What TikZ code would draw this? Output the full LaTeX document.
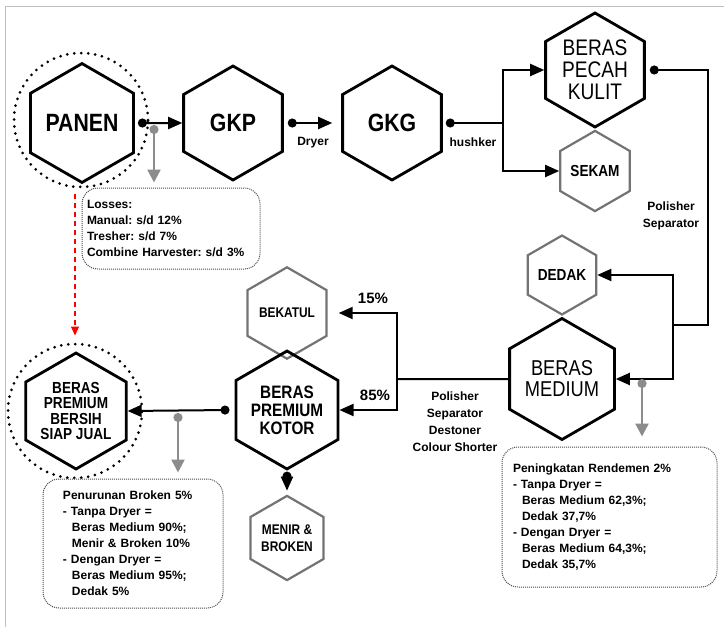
\documentclass[tikz,border=0pt]{standalone}
\usepackage{fontspec}
\setmainfont{Liberation Sans}
\newfontfamily\narrowsans[FakeStretch=0.85]{Liberation Sans}
\usetikzlibrary{shapes.geometric,arrows.meta}
\frenchspacing

\tikzset{
  hexbig/.style={regular polygon, regular polygon sides=6, shape border rotate=30,
    draw, line width=2.8pt, inner sep=0pt, minimum size=114pt, align=center},
  hexsmall/.style={regular polygon, regular polygon sides=6, shape border rotate=30,
    draw=black!55, line width=2.2pt, inner sep=0pt, minimum size=74pt, align=center,
    font=\narrowsans\bfseries\fontsize{16}{17}\selectfont},
  ring/.style={circle, draw, line width=3pt, dash pattern=on 0pt off 7pt,
    line cap=round, inner sep=0pt, minimum size=134pt},
  infobox/.style={draw=black!70, densely dotted, line width=1pt, rounded corners=16pt,
    align=left, inner ysep=0pt, font=\bfseries\fontsize{12}{16}\selectfont},
  lbl/.style={font=\bfseries\fontsize{12}{17}\selectfont, align=center},
  pct/.style={font=\bfseries\fontsize{15}{15}\selectfont},
  flow/.style={line width=2pt, {Circle[length=9pt]}-{Triangle[length=14pt,width=12pt]}},
  tap/.style={line width=2pt, {Circle[length=9pt]}-},
  feed/.style={line width=2pt, -{Triangle[length=14pt,width=12pt]}},
  grayflow/.style={draw=black!45, line width=2.5pt,
    {Circle[length=9pt]}-{Triangle[length=13pt,width=13pt]}},
}

\begin{document}
\begin{tikzpicture}[x=1pt, y=-1pt]
  \useasboundingbox (0,0) rectangle (724,627);
  \draw[black!25, line width=1pt] (5,627) -- (5,6) -- (724,6);

  % hexagons
  \node[hexbig, font=\narrowsans\bfseries\fontsize{25}{25}\selectfont] (panen) at (82,123) {PANEN};
  \node[hexbig, font=\narrowsans\bfseries\fontsize{25}{25}\selectfont] (gkp) at (233,123) {GKP};
  \node[hexbig, font=\narrowsans\bfseries\fontsize{25}{25}\selectfont] (gkg) at (392,123) {GKG};
  \node[hexbig, font=\narrowsans\fontsize{22.5}{22}\selectfont] (bpk) at (595,70) {BERAS\\PECAH\\KULIT};
  \node[hexsmall] (sekam) at (595,171) {SEKAM};
  \node[hexsmall] (dedak) at (562,275) {DEDAK};
  \node[hexbig, font=\narrowsans\fontsize{21.5}{21}\selectfont] (bm) at (562,379) {BERAS\\MEDIUM};
  \node[hexsmall, font=\narrowsans\bfseries\fontsize{14}{17}\selectfont] (bekatul) at (287,313) {BEKATUL};
  \node[hexbig, font=\narrowsans\bfseries\fontsize{18}{18}\selectfont] (kotor) at (287,410) {BERAS\\PREMIUM\\KOTOR};
  \node[hexsmall, font=\narrowsans\bfseries\fontsize{14}{17}\selectfont] (menir) at (287,538) {MENIR \&\\BROKEN};
  \node[hexbig, font=\narrowsans\bfseries\fontsize{16}{15.5}\selectfont] (bersih) at (76,411) {BERAS\\PREMIUM\\BERSIH\\SIAP JUAL};

  % dotted rings
  \node[ring] (panenring) at (81,120) {};
  \node[ring] (bersihring) at (75,411) {};

  % info boxes
  \node[infobox, inner xsep=5pt, text width=168pt, minimum height=81pt] (losses) at (171,228.5)
    {Losses:\\Manual: s/d 12\%\\Tresher: s/d 7\%\\Combine Harvester: s/d 3\%};
  \node[infobox, inner xsep=20pt, text width=140pt, minimum height=129pt] (penurunan) at (133,543.5)
    {Penurunan Broken 5\%\\- Tanpa Dryer =\\\hspace*{9pt}Beras Medium 90\%;\\\hspace*{9pt}Menir \& Broken 10\%\\- Dengan Dryer =\\\hspace*{9pt}Beras Medium 95\%;\\\hspace*{9pt}Dedak 5\%};
  \node[infobox, inner xsep=11pt, text width=193pt, minimum height=140pt] (peningkatan) at (609.5,517)
    {Peningkatan Rendemen 2\%\\- Tanpa Dryer =\\\hspace*{9pt}Beras Medium 62,3\%;\\\hspace*{9pt}Dedak 37,7\%\\- Dengan Dryer =\\\hspace*{9pt}Beras Medium 64,3\%;\\\hspace*{9pt}Dedak 35,7\%};

  % splits
  \coordinate (husk) at ([xshift=60pt]gkg.east);
  \coordinate (polsplit) at (673,325);
  \coordinate (sortsplit) at (397,379);
  \coordinate (lossfork) at (154,125);
  \coordinate (medfork) at (642,379);
  \coordinate (kotorfork) at (178,413);

  % main flow
  \draw[flow] ([xshift=3pt]panen.east) -- (gkp.west);
  \draw[flow, shorten >=9pt] ([xshift=4pt]gkp.east) -- (gkg.west);
  \draw[tap] ([xshift=3pt]gkg.east) -- (husk);
  \draw[feed] (husk) |- (bpk.west);
  \draw[feed] (husk) |- (sekam.west);
  \draw[tap] ([xshift=4pt]bpk.east) -| (708,325) -- (polsplit);
  \draw[feed] (polsplit) |- (dedak.east);
  \draw[feed] (polsplit) |- (bm.east);
  \draw[line width=2pt] (bm.west) -- (sortsplit);
  \draw[feed, shorten >=11pt] (sortsplit) |- (bekatul.east);
  \draw[feed] (sortsplit) |- (kotor.east);
  \draw[flow] ([xshift=-5pt]kotor.west) -- (bersih.east);
  \draw[flow, shorten >=4pt] ([yshift=-1pt]kotor.south) -- (menir.north);

  % side outputs
  \draw[grayflow, shorten >=5pt] (lossfork) -- (lossfork |- losses.north);
  \draw[grayflow, shorten >=10pt] (medfork) -- (medfork |- peningkatan.north);
  \draw[grayflow, shorten >=6pt] (kotorfork) -- (kotorfork |- penurunan.north);
  \draw[red, line width=1.4pt, dash pattern=on 5pt off 4pt, -{Triangle[length=9pt,width=8pt]},
    shorten <=5pt, shorten >=7pt] (bersihring.north |- panenring.south) -- (bersihring.north);

  % labels
  \node[lbl] (dryer) at (313,143) {Dryer};
  \node[lbl] (hushker) at (473,142) {hushker};
  \node[lbl] (polsep) at (671,216) {Polisher\\Separator};
  \node[lbl] (sorter) at (455,422) {Polisher\\Separator\\Destoner\\Colour Shorter};
  \node[pct] (p15) at (373,298) {15\%};
  \node[pct] (p85) at (375,395) {85\%};
\end{tikzpicture}
\end{document}
